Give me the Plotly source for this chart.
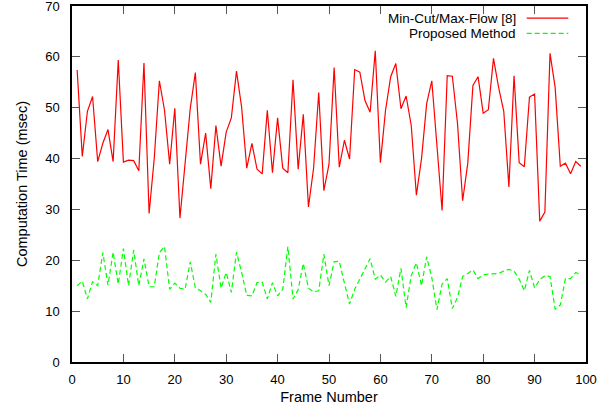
import plotly.graph_objects as go

frames = list(range(1, 100))

mincut_maxflow = [
    57.4, 40.4, 49.3, 52.2, 39.4, 43.0, 45.7, 39.4, 59.4, 39.3,
    39.7, 39.6, 37.6, 58.8, 29.2, 40.0, 55.3, 49.5, 38.9, 49.9,
    28.3, 38.8, 49.8, 56.9, 38.9, 45.0, 34.1, 46.5, 38.5, 45.2,
    48.0, 57.2, 50.1, 38.1, 43.0, 37.9, 37.0, 49.5, 37.2, 48.0,
    38.1, 37.2, 55.5, 37.9, 48.7, 30.5, 38.1, 53.0, 33.7, 38.9,
    57.9, 38.3, 43.6, 39.9, 57.5, 57.0, 51.4, 49.1, 61.2, 39.2,
    49.5, 56.1, 58.7, 49.8, 52.3, 46.5, 32.8, 40.0, 50.8, 55.3,
    43.0, 29.8, 56.3, 56.2, 46.9, 31.7, 39.1, 54.4, 56.1, 48.9,
    49.6, 59.7, 54.0, 49.3, 34.4, 56.3, 39.2, 38.4, 52.1, 52.7,
    27.7, 29.5, 60.7, 54.0, 38.5, 39.1, 37.0, 39.4, 38.5,
]

proposed_method = [
    15.0, 15.9, 12.4, 15.8, 15.0, 21.5, 15.1, 21.6, 15.3, 22.3,
    15.0, 22.0, 15.0, 20.3, 14.8, 14.8, 21.5, 22.7, 14.3, 15.5,
    14.5, 14.3, 19.7, 14.6, 14.0, 13.3, 11.7, 21.2, 14.5, 17.6,
    13.7, 21.6, 17.6, 13.1, 13.0, 15.6, 15.7, 12.4, 15.6, 13.0,
    14.3, 22.7, 12.4, 14.2, 19.4, 14.5, 13.8, 14.0, 21.2, 15.0,
    19.7, 19.8, 15.5, 11.4, 14.3, 16.2, 18.3, 20.3, 16.3, 17.1,
    15.7, 16.8, 12.9, 18.4, 10.7, 17.0, 19.5, 15.0, 20.7, 16.6,
    10.3, 15.3, 16.4, 10.5, 12.7, 16.8, 17.4, 18.1, 16.4, 17.1,
    17.3, 17.4, 17.4, 17.9, 18.2, 17.9, 16.3, 14.0, 18.0, 14.6,
    16.2, 17.0, 16.8, 10.4, 11.2, 16.4, 16.4, 17.6, 17.1,
]

series_names = ["Min-Cut/Max-Flow [8]", "Proposed Method"]
x_ticks = [0, 10, 20, 30, 40, 50, 60, 70, 80, 90, 100]
y_ticks = [0, 10, 20, 30, 40, 50, 60, 70]

FONT = "Liberation Sans, Arial, Helvetica, sans-serif"
RED = "#ff0000"
GREEN = "#00ff00"

fig = go.Figure()
fig.add_trace(go.Scatter(x=frames, y=mincut_maxflow, mode="lines",
                         name=series_names[0],
                         line=dict(color=RED, width=1.2)))
fig.add_trace(go.Scatter(x=frames, y=proposed_method, mode="lines",
                         name=series_names[1],
                         line=dict(color=GREEN, width=1.2, dash="5px,3px")))

axis_common = dict(
    showgrid=False, zeroline=False, automargin=False,
    showline=True, linecolor="black", linewidth=1.5, mirror="ticks",
    ticks="inside", ticklen=8, tickwidth=1.2, tickcolor="#555555",
    ticklabeloverflow="allow",
    tickfont=dict(family=FONT, size=13, color="black"),
)

fig.update_xaxes(range=[0, 100], tickvals=x_ticks, ticklabelstandoff=5,
                 title=dict(text="Frame Number", standoff=6,
                            font=dict(family=FONT, size=14.5, color="black")),
                 **axis_common)
fig.update_yaxes(range=[0, 70], tickvals=y_ticks, ticklabelstandoff=8,
                 title=dict(text="Computation Time (msec)", standoff=14,
                            font=dict(family=FONT, size=14.5, color="black")),
                 **axis_common)

# gnuplot-style key: text right-aligned, sample to the right
key_rows = [(0.966, RED, "solid"), (0.923, GREEN, "5px,3px")]
for name, (yk, col, dsh) in zip(series_names, key_rows):
    fig.add_annotation(xref="paper", yref="paper", x=0.865, y=yk,
                       text=name, showarrow=False, xanchor="right",
                       yanchor="middle", borderpad=0,
                       font=dict(family=FONT, size=13.5, color="black"))
    fig.add_shape(type="line", xref="paper", yref="paper",
                  x0=0.8846, x1=0.9656, y0=yk, y1=yk,
                  line=dict(color=col, width=1.2, dash=dsh))

fig.update_layout(
    width=616, height=412,
    margin=dict(l=72, r=30, t=6, b=50),
    paper_bgcolor="white", plot_bgcolor="white",
    showlegend=False,
    font=dict(family=FONT, color="black"),
)

fig.write_html("out.html",
               config={"displayModeBar": False},
               post_script="document.body.style.margin='0';document.body.style.padding='0';")
